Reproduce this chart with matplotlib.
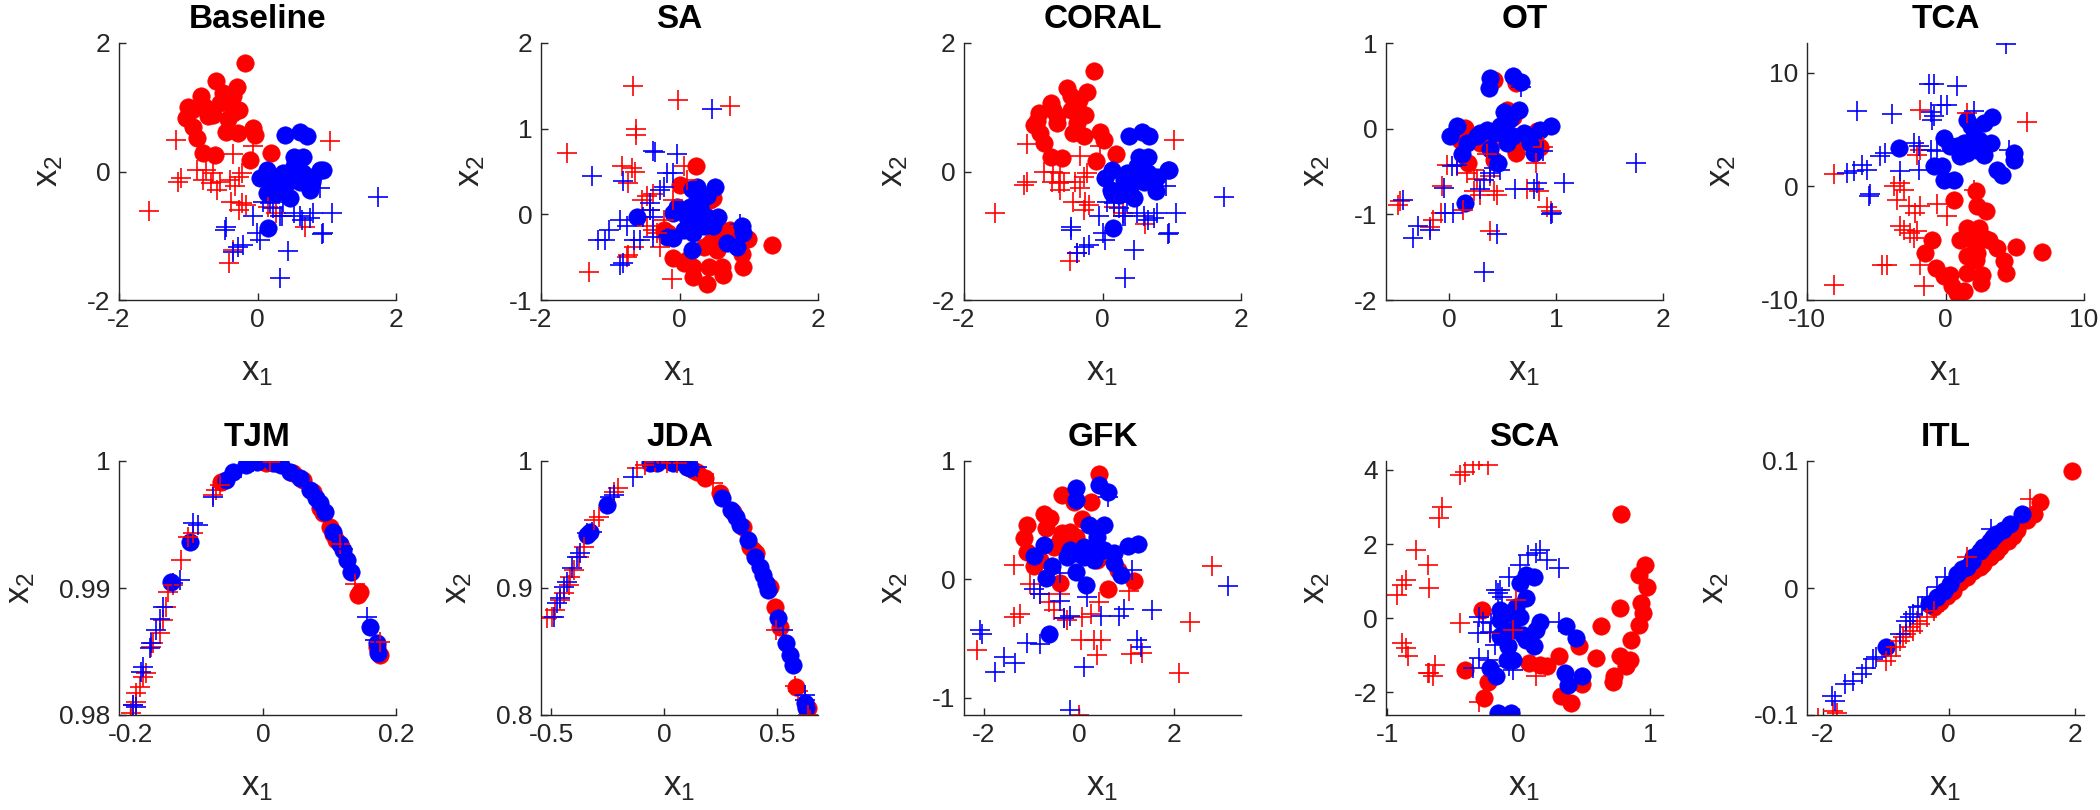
import numpy as np
import matplotlib
matplotlib.use("Agg")
import matplotlib.pyplot as plt
from matplotlib.ticker import FuncFormatter

plt.rcParams['font.family'] = ['Liberation Sans', 'DejaVu Sans']
plt.rcParams['mathtext.fontset'] = 'custom'
plt.rcParams['mathtext.rm'] = 'Liberation Sans'
plt.rcParams['mathtext.it'] = 'Liberation Sans'
plt.rcParams['axes.unicode_minus'] = False

# ---- Baseline ----
base_rdot = [(-0.18, 1.69), (-0.60, 1.41), (-0.29, 1.31), (-0.82, 1.17), (-1.00, 1.01), (-0.40, 1.12),
             (-1.03, 0.83), (-0.93, 0.70), (-0.64, 0.88), (-0.35, 0.91), (-0.76, 1.01), (-0.54, 1.06),
             (-0.45, 0.62), (-0.28, 0.60), (-0.06, 0.68), (-0.04, 0.57), (-0.88, 0.52), (-0.79, 0.29),
             (-0.62, 0.26), (-0.11, 0.18), (0.20, 0.29), (-0.42, 0.81), (-0.50, 1.22), (-0.35, 1.17),
             (-0.26, 0.96), (-0.71, 0.86), (-0.95, 0.96)]
base_bdot = [(0.40, 0.57), (0.61, 0.62), (0.71, 0.55), (0.52, 0.23), (0.66, 0.23), (0.03, -0.10),
             (0.13, 0.03), (0.37, -0.03), (0.52, 0.08), (0.90, 0.03), (0.95, 0.03), (0.80, -0.08),
             (0.23, -0.23), (0.42, -0.18), (0.61, -0.16), (0.76, -0.29), (0.13, -0.34), (0.47, -0.42),
             (0.27, -0.34), (0.15, -0.88), (0.56, -0.03), (0.32, -0.13), (0.78, -0.16), (0.47, -0.05),
             (0.66, -0.03)]
base_rplus = [(1.05, 0.48), (-1.17, 0.49), (-1.10, -0.10), (-1.15, -0.16), (-1.57, -0.61), (-0.74, 0.03),
              (-0.64, -0.03), (-0.54, -0.16), (-0.67, -0.18), (-0.35, 0.28), (-0.23, -0.03), (-0.26, -0.08),
              (-0.40, -0.13), (-0.33, -0.23), (-0.38, -0.47), (-0.23, -0.49), (-0.16, -0.52), (-0.26, -0.60),
              (0.15, -0.55), (0.27, -0.65), (0.68, -0.86), (-0.41, -1.42), (-0.35, -1.22), (-0.88, 0.03),
              (-0.79, -0.13), (-0.06, 0.39), (-0.59, -0.29)]
base_bplus = [(1.74, -0.40), (1.07, -0.65), (0.95, -0.96), (0.93, -0.98), (0.80, -0.65), (0.76, -0.73),
              (0.61, -0.70), (0.35, -0.70), (0.32, -0.70), (0.23, -0.57), (0.08, -0.47), (-0.06, -0.70),
              (-0.01, -0.96), (-0.21, -1.14), (-0.35, -1.25), (-0.28, -1.17), (-0.45, -0.86), (-0.47, -0.91),
              (0.44, -1.23), (0.32, -1.66), (0.64, -0.75), (0.90, -0.26), (0.03, -1.06), (0.18, -0.49),
              (0.52, -0.65), (0.37, -0.47)]

# ---- SA ----
sa_rdot = [(0.24, 0.57), (0.01, 0.34), (0.44, 0.17), (0.49, 0.19), (-0.23, -0.18), (-0.16, -0.22),
           (-0.09, -0.51), (0.06, -0.57), (0.20, -0.61), (0.39, -0.81), (0.44, -0.34), (0.49, -0.30),
           (0.61, -0.20), (0.78, -0.30), (0.99, -0.29), (0.90, -0.46), (0.92, -0.61), (0.61, -0.61),
           (0.63, -0.71), (0.42, -0.61), (0.20, -0.73), (0.11, -0.53), (1.33, -0.36), (0.35, -0.38),
           (0.54, -0.42), (0.73, -0.18)]
sa_bdot = [(-0.62, -0.03), (-0.04, 0.09), (-0.09, 0.01), (0.18, 0.30), (0.25, 0.32), (0.51, 0.32),
           (0.39, 0.21), (0.25, 0.17), (0.30, 0.01), (0.11, -0.03), (0.20, -0.07), (0.39, -0.03),
           (0.56, -0.03), (0.35, -0.14), (0.49, -0.14), (0.06, -0.18), (-0.09, -0.28), (-0.18, -0.26),
           (0.20, -0.22), (0.18, -0.42), (0.68, -0.34), (0.83, -0.38), (0.90, -0.14), (0.92, -0.22),
           (0.30, 0.09), (0.15, 0.09)]
sa_rplus = [(-0.67, 1.50), (-0.02, 1.34), (0.73, 1.27), (-1.63, 0.72), (-0.63, 1.00), (-0.63, 0.93),
            (-0.83, 0.56), (-0.69, 0.54), (-0.64, 0.50), (-0.74, 0.36), (-0.38, 0.24), (-0.47, 0.21),
            (-0.54, 0.17), (-0.42, 0.05), (-0.47, -0.14), (-0.38, -0.18), (-0.33, -0.22), (-0.28, -0.38),
            (-0.66, -0.38), (-0.74, -0.48), (-1.31, -0.67), (-0.11, -0.75), (0.06, 0.56), (0.11, 0.40),
            (-0.09, 0.17), (-0.76, -0.50), (-0.23, -0.07)]
sa_bplus = [(0.47, 1.23), (-0.38, 0.74), (-0.35, 0.73), (-0.04, 0.71), (-1.26, 0.45), (-0.81, 0.39),
            (-0.18, 0.48), (-0.09, 0.48), (-0.42, 0.13), (-0.42, 0.05), (-0.28, 0.28), (-0.23, 0.32),
            (-0.86, -0.07), (-1.02, -0.18), (-1.07, -0.30), (-1.17, -0.30), (-0.86, -0.59), (-0.81, -0.57),
            (-0.57, -0.30), (-0.38, -0.26), (-0.52, -0.03), (-0.38, -0.03), (0.87, -0.11), (-0.66, -0.30),
            (-0.76, -0.14)]

# ---- CORAL ----
coral_rdot = [(-0.12, 1.57), (-0.51, 1.30), (-0.22, 1.23), (-0.75, 1.07), (-0.92, 0.91), (-0.37, 1.01),
              (-0.99, 0.73), (-0.90, 0.60), (-0.66, 0.86), (-0.32, 0.86), (-0.71, 0.96), (-0.46, 0.96),
              (-0.42, 0.60), (-0.27, 0.55), (-0.03, 0.62), (0.02, 0.49), (-0.85, 0.44), (-0.75, 0.23),
              (-0.58, 0.21), (-0.10, 0.16), (0.19, 0.27), (-0.37, 0.75), (-0.46, 1.17), (-0.34, 1.12),
              (-0.25, 0.88), (-0.66, 0.75), (-0.95, 0.78)]
coral_bdot = [(0.38, 0.55), (0.57, 0.62), (0.67, 0.55), (0.53, 0.23), (0.65, 0.23), (0.04, -0.10),
              (0.14, 0.02), (0.36, -0.03), (0.50, 0.08), (0.94, 0.02), (0.96, 0.03), (0.79, -0.08),
              (0.14, -0.34), (0.41, -0.21), (0.60, -0.16), (0.77, -0.31), (0.12, -0.29), (0.45, -0.42),
              (0.24, -0.36), (0.15, -0.88), (0.55, -0.03), (0.31, -0.13), (0.74, -0.16), (0.45, -0.05),
              (0.65, -0.03)]
coral_rplus = [(1.03, 0.49), (-1.09, 0.43), (-1.09, -0.16), (-1.14, -0.21), (-1.55, -0.65), (-0.71, 0.00),
               (-0.61, -0.03), (-0.56, -0.16), (-0.63, -0.18), (-0.32, 0.24), (-0.22, -0.03), (-0.27, -0.08),
               (-0.39, -0.16), (-0.32, -0.26), (-0.42, -0.47), (-0.25, -0.47), (-0.20, -0.52), (-0.27, -0.60),
               (0.16, -0.55), (0.29, -0.65), (0.62, -0.81), (-0.47, -1.40), (-0.37, -1.27), (-0.85, 0.00),
               (-0.73, -0.16), (-0.03, 0.39), (-0.61, -0.29)]
coral_bplus = [(1.76, -0.40), (1.06, -0.65), (0.96, -0.96), (0.94, -0.98), (0.79, -0.65), (0.74, -0.73),
               (0.60, -0.70), (0.33, -0.70), (0.29, -0.70), (0.24, -0.57), (0.07, -0.47), (-0.05, -0.70),
               (0.00, -0.96), (-0.20, -1.14), (-0.37, -1.27), (-0.27, -1.17), (-0.46, -0.86), (-0.46, -0.91),
               (0.45, -1.22), (0.33, -1.66), (0.65, -0.75), (0.91, -0.23), (0.04, -1.06), (0.16, -0.49),
               (0.50, -0.65), (0.36, -0.47)]

# ---- OT ----
ot_rdot = [(0.42, 0.57), (0.63, 0.53), (0.54, 0.22), (0.15, 0.01), (0.18, -0.40), (0.85, -0.21),
           (0.63, -0.28), (0.82, -0.03), (0.38, -0.21), (0.29, -0.17), (0.48, -0.05), (0.10, -0.13),
           (0.70, -0.13), (0.60, 0.14), (0.42, -0.36)]
ot_bdot = [(0.38, 0.59), (0.37, 0.47), (0.60, 0.61), (0.67, 0.55), (0.51, 0.20), (0.65, 0.22),
           (0.07, 0.03), (0.01, -0.09), (0.17, -0.17), (0.12, -0.30), (0.26, -0.09), (0.35, -0.01),
           (0.42, -0.05), (0.48, 0.03), (0.54, -0.05), (0.60, -0.09), (0.70, -0.05), (0.76, -0.17),
           (0.79, -0.28), (0.85, -0.01), (0.95, 0.03), (0.38, -0.24), (0.46, -0.40), (0.15, -0.87),
           (0.54, -0.17), (0.29, -0.05), (0.57, 0.11)]
ot_rplus = [(-0.46, -0.85), (-0.48, -0.89), (-0.02, -0.42), (-0.07, -0.67), (-0.15, -1.07), (-0.18, -1.15),
            (0.13, -0.95), (0.23, -0.73), (0.29, -0.77), (0.42, -0.73), (0.45, -0.77), (0.38, -1.20),
            (0.81, -0.40), (0.73, -0.71), (0.84, -0.73), (0.92, -0.92), (0.95, -0.96), (0.23, -0.48),
            (0.26, -0.59), (0.38, -0.55), (0.07, -0.44), (0.35, -0.30), (0.88, -0.21), (-0.08, -0.98),
            (0.17, -0.52)]
ot_bplus = [(1.75, -0.40), (1.07, -0.64), (0.82, -0.64), (0.79, -0.71), (0.62, -0.71), (0.95, -1.00),
            (0.96, -0.98), (0.45, -1.23), (0.33, -1.67), (-0.34, -1.28), (-0.29, -1.14), (-0.18, -1.18),
            (-0.04, -0.98), (0.04, -0.98), (-0.05, -0.69), (0.03, -0.44), (0.07, -0.42), (0.29, -0.71),
            (0.33, -0.60), (0.38, -0.52), (0.42, -0.46), (0.48, -0.48), (0.88, -0.26), (0.67, 0.49),
            (-0.43, -0.83)]

# ---- TCA ----
tca_rdot = [(2.17, -0.44), (0.60, -1.17), (2.29, -1.76), (2.89, -2.20), (1.57, -3.67), (2.41, -3.67),
            (1.08, -4.69), (1.93, -4.69), (2.77, -4.55), (3.13, -4.69), (3.73, -5.42), (5.06, -5.34),
            (6.99, -5.81), (1.57, -6.16), (2.29, -5.86), (2.17, -6.45), (4.22, -6.60), (4.34, -7.62),
            (1.57, -7.62), (2.65, -7.77), (2.53, -8.50), (-0.96, -4.69), (-1.45, -5.86), (-0.72, -7.18),
            (-0.12, -7.92), (0.36, -7.77), (0.48, -8.80), (1.33, -9.24), (0.84, -9.38)]
tca_bdot = [(-3.37, 3.37), (-0.12, 4.25), (-0.84, 1.76), (-0.24, 1.76), (-0.12, 0.59), (0.60, 0.59),
            (1.57, 5.86), (1.81, 5.28), (3.37, 6.10), (2.77, 5.57), (2.05, 4.40), (1.33, 3.81),
            (0.84, 3.52), (1.57, 2.93), (2.29, 3.23), (2.77, 2.79), (3.25, 3.81), (4.94, 2.93),
            (4.94, 2.35), (3.73, 1.47), (4.10, 1.03), (1.08, 2.64), (0.36, 3.52), (1.81, 3.81),
            (2.41, 4.11)]
tca_rplus = [(-8.07, 1.11), (-4.58, -6.95), (-4.22, -6.89), (-8.07, -8.65), (-1.57, -8.80), (-1.81, 6.74),
             (-1.81, 3.23), (-2.05, 2.79), (-3.25, 0.29), (-3.73, 0.00), (-3.01, -0.29), (-3.49, -1.17),
             (-2.65, -1.76), (-2.17, -2.35), (-1.81, -1.76), (-0.60, -1.52), (0.12, -2.64), (-3.25, -3.52),
             (-3.01, -3.81), (-2.53, -4.11), (-2.29, -4.55), (-2.05, -3.96), (5.90, 5.63), (2.05, -0.29),
             (1.57, 6.45), (-1.81, -6.95)]
tca_bplus = [(4.34, 12.55), (-1.20, 8.97), (-0.84, 8.97), (0.80, 8.86), (-6.39, 6.63), (-3.86, 6.33),
             (-1.08, 6.57), (-0.36, 7.15), (0.12, 7.15), (-0.96, 5.86), (-0.84, 6.16), (-7.11, 1.17),
             (-6.63, 1.32), (-6.02, 1.91), (-5.66, 1.47), (-4.70, 2.64), (-4.34, 2.93), (-2.29, 3.81),
             (-1.93, 3.52), (-1.08, 3.23), (-0.60, 3.08), (-3.25, 1.32), (-1.93, 1.47), (-5.42, -0.65),
             (-5.54, -0.88), (4.58, 3.23), (2.05, 6.63)]

# ---- TJM ----
tjm_rdot = [(-0.0628, 0.99837), (0.0050, 0.99982), (0.0201, 0.99982), (0.0602, 0.99850), (0.0753, 0.99759),
            (0.0904, 0.99588), (0.1004, 0.99483), (0.1431, 0.98945), (0.1456, 0.98971), (0.1757, 0.98472),
            (0.1707, 0.98537), (0.1104, 0.99375), (0.0452, 0.99903), (0.0853, 0.99633), (0.1054, 0.99423)]
tjm_bdot = [(-0.0552, 0.99850), (-0.0452, 0.99916), (-0.0251, 0.99969), (-0.0100, 0.99995), (0.0276, 0.99969),
            (0.0402, 0.99916), (0.0552, 0.99864), (0.0703, 0.99772), (0.0853, 0.99667), (0.0929, 0.99601),
            (0.1054, 0.99444), (0.1205, 0.99299), (0.1330, 0.99129), (0.1606, 0.98696), (0.1707, 0.98565),
            (0.1732, 0.98486), (-0.1104, 0.99365), (-0.1381, 0.99050), (0.1155, 0.99349), (0.1255, 0.99218),
            (0.0151, 0.99982), (0.0803, 0.99706)]
tjm_rplus = [(-0.1983, 0.98013), (-0.1958, 0.98079), (-0.1908, 0.98105), (-0.1908, 0.98171), (-0.1857, 0.98223),
             (-0.1807, 0.98302), (-0.1757, 0.98328), (-0.1682, 0.98538), (-0.1657, 0.98564), (-0.1556, 0.98643),
             (-0.1506, 0.98748), (-0.1456, 0.98853), (-0.1431, 0.98971), (-0.1355, 0.99024), (-0.1230, 0.99220),
             (-0.1130, 0.99404), (-0.1054, 0.99430), (-0.0753, 0.99732), (-0.0703, 0.99772), (-0.0653, 0.99811),
             (0.1155, 0.99349), (0.1381, 0.99034), (0.1757, 0.98577), (0.0100, 0.99995)]
tjm_bplus = [(-0.1958, 0.98079), (-0.1908, 0.98066), (-0.1832, 0.98341), (-0.1807, 0.98381), (-0.1707, 0.98525),
             (-0.1682, 0.98564), (-0.1606, 0.98669), (-0.1556, 0.98759), (-0.1506, 0.98853), (-0.1355, 0.99036),
             (-0.1054, 0.99509), (-0.0979, 0.99496), (-0.0753, 0.99717), (-0.0151, 0.99995), (-0.0050, 1.00008),
             (0.1556, 0.98774), (0.1682, 0.98590), (-0.0326, 0.99942), (0.1205, 0.99310), (-0.1255, 0.99063)]

# ---- JDA ----
jda_rdot = [(0.128, 0.9929), (0.179, 0.9864), (0.246, 0.9745), (0.304, 0.9601), (0.349, 0.9483),
            (0.378, 0.9325), (0.407, 0.9273), (0.488, 0.8853), (0.510, 0.8696), (0.584, 0.8223),
            (0.635, 0.8052), (0.143, 0.9916), (0.393, 0.9299), (0.466, 0.9010)]
jda_bdot = [(-0.063, 0.9982), (-0.034, 0.9982), (0.025, 1.0000), (0.040, 0.9982), (0.099, 0.9955),
            (0.113, 0.9942), (0.253, 0.9706), (0.297, 0.9614), (0.319, 0.9562), (0.334, 0.9496),
            (0.371, 0.9378), (0.400, 0.9247), (0.422, 0.9168), (0.437, 0.9102), (0.451, 0.9037),
            (0.459, 0.8984), (0.503, 0.8761), (0.540, 0.8564), (0.554, 0.8472), (0.569, 0.8394),
            (0.621, 0.8092), (0.628, 0.8052), (-0.254, 0.9654), (-0.343, 0.9417), (-0.328, 0.9444)]
jda_rplus = [(-0.519, 0.8761), (-0.497, 0.8774), (-0.482, 0.8827), (-0.460, 0.8906), (-0.446, 0.8958),
             (-0.424, 0.9024), (-0.416, 0.9090), (-0.401, 0.9142), (-0.379, 0.9247), (-0.357, 0.9325),
             (-0.313, 0.9535), (-0.291, 0.9562), (-0.225, 0.9759), (-0.203, 0.9785), (-0.122, 0.9942),
             (-0.085, 0.9969), (-0.041, 0.9995), (0.010, 0.9982), (0.054, 0.9982), (0.216, 0.9824),
             (0.496, 0.8672), (0.576, 0.8226), (0.591, 0.8186), (0.643, 0.7963), (0.635, 0.8003)]
jda_bplus = [(-0.490, 0.8774), (-0.475, 0.8880), (-0.460, 0.8919), (-0.446, 0.9011), (-0.431, 0.9050),
             (-0.409, 0.9155), (-0.387, 0.9247), (-0.372, 0.9273), (-0.343, 0.9430), (-0.321, 0.9444),
             (-0.240, 0.9719), (-0.225, 0.9732), (-0.137, 0.9877), (-0.041, 1.0021), (-0.019, 1.0008),
             (0.032, 1.0021), (0.525, 0.8669), (0.621, 0.8157), (0.621, 0.8118), (0.143, 0.9955)]

# ---- GFK ----
gfk_rdot = [(0.42, 0.89), (-0.35, 0.71), (-0.11, 0.65), (0.25, 0.65), (-0.74, 0.55), (-0.60, 0.52),
            (0.07, 0.51), (-1.09, 0.46), (-0.70, 0.43), (-1.16, 0.35), (-0.35, 0.39), (-0.18, 0.40),
            (-0.39, 0.33), (-0.07, 0.36), (-1.09, 0.23), (-0.95, 0.11), (-0.39, -0.03), (0.60, -0.08),
            (1.16, -0.01), (0.81, 0.08), (-0.53, 0.27), (0.04, 0.26), (0.39, 0.16), (-0.81, 0.16)]
gfk_bdot = [(-0.07, 0.77), (-0.07, 0.67), (0.42, 0.80), (0.60, 0.74), (0.21, 0.46), (0.53, 0.46),
            (-0.95, 0.20), (-0.74, 0.29), (-0.56, 0.11), (-0.70, 0.01), (-0.18, 0.25), (-0.07, 0.22),
            (0.11, 0.27), (0.32, 0.27), (0.53, 0.25), (0.32, 0.16), (0.11, 0.19), (0.74, 0.22),
            (1.02, 0.28), (1.23, 0.30), (0.74, 0.14), (0.88, 0.04), (-0.07, 0.06), (0.14, -0.05),
            (-0.63, -0.46), (0.39, 0.36), (-0.25, 0.19)]
gfk_rplus = [(-1.37, 0.12), (2.79, 0.11), (2.32, -0.36), (2.11, -0.79), (-2.14, -0.60), (-1.37, -0.32),
             (-1.23, -0.29), (-0.63, -0.19), (-0.53, -0.26), (-0.32, -0.33), (-0.25, -0.34), (0.04, -0.51),
             (0.32, -0.51), (0.46, -0.51), (0.39, -0.64), (1.05, -0.10), (1.09, -0.63), (1.33, -0.62),
             (0.00, -1.15), (0.07, -0.32), (0.25, -0.29), (0.42, -0.19), (-0.81, -0.12), (-0.39, -0.12),
             (-1.02, -0.04)]
gfk_bplus = [(3.12, -0.06), (-2.07, -0.43), (-2.04, -0.46), (-1.58, -0.66), (-1.33, -0.71), (-1.75, -0.78),
             (-1.09, -0.54), (-0.81, -0.55), (-0.95, -0.08), (-0.81, -0.12), (-0.39, -0.18), (-0.32, -0.33),
             (-0.18, -0.31), (0.18, -0.15), (0.46, -0.31), (0.84, -0.31), (0.95, -0.25), (1.54, -0.26),
             (1.12, 0.08), (1.21, -0.51), (1.30, -0.57), (0.11, -0.74), (-0.18, -1.10), (0.60, 0.70),
             (-0.39, 0.05)]

# ---- SCA ----
sca_rdot = [(0.78, 2.80), (0.96, 1.44), (0.92, 1.17), (0.98, 0.85), (0.93, 0.40), (0.95, 0.13),
            (0.92, -0.18), (0.77, 0.27), (0.63, -0.22), (0.86, -0.58), (0.59, -1.08), (0.77, -1.03),
            (0.85, -1.12), (0.82, -1.30), (0.73, -1.57), (0.72, -1.71), (0.46, -0.76), (0.31, -1.03),
            (0.22, -1.30), (0.16, -1.26), (0.08, -1.21), (-0.28, 0.21), (-0.41, -1.39), (-0.23, -1.71),
            (-0.26, -2.16), (0.32, -2.10), (0.40, -2.29), (0.48, -1.78)]
sca_bdot = [(0.06, 1.17), (0.12, 1.12), (0.01, 0.94), (0.06, 0.54), (-0.14, 0.22), (-0.07, 0.13),
            (-0.14, -0.04), (0.01, 0.04), (-0.11, -0.40), (-0.04, -0.31), (0.03, -0.45), (-0.14, -0.49),
            (0.06, -0.58), (0.16, -0.09), (0.13, -0.31), (0.12, -0.76), (-0.08, -0.76), (-0.09, -1.12),
            (-0.04, -1.12), (-0.22, -1.35), (-0.17, -1.57), (0.36, -0.22), (0.44, -0.54), (0.35, -1.48),
            (0.38, -1.80), (0.48, -1.57), (-0.16, -2.56), (-0.06, -2.56), (-0.02, 0.31)]
sca_rplus = [(-0.45, 3.86), (-0.41, 3.95), (-0.35, 4.13), (-0.30, 4.27), (-0.23, 4.13), (-0.58, 3.01),
             (-0.61, 2.70), (-0.78, 1.84), (-0.69, 1.44), (-0.86, 1.04), (-0.89, 0.90), (-0.93, 0.63),
             (-0.68, 0.81), (-0.89, -0.67), (-0.86, -0.81), (-0.84, -1.03), (-0.64, -1.26), (-0.69, -1.48),
             (-0.65, -1.57), (-0.45, -0.13), (-0.02, 0.49), (-0.04, -0.31), (-0.22, -0.40), (0.13, -1.57),
             (-0.30, -2.25), (-0.68, -1.48)]
sca_bplus = [(0.07, 1.71), (0.13, 1.75), (0.16, 1.84), (0.22, 1.57), (0.31, 1.35), (0.01, 1.44),
             (-0.07, 1.12), (-0.14, 0.76), (-0.16, 0.67), (-0.13, 0.58), (-0.30, 0.04), (-0.27, -0.09),
             (-0.21, -0.13), (-0.22, -0.36), (-0.31, -0.40), (-0.18, -0.72), (-0.30, -1.08), (-0.23, -1.12),
             (-0.35, -1.35), (0.31, -0.09), (-0.04, -1.39), (-0.17, 0.76), (-0.07, -1.30)]

# ---- ITL ----
itl_rdot = [(1.96, 0.0921), (1.45, 0.0676), (1.35, 0.0584), (1.24, 0.0532), (1.08, 0.0453), (0.95, 0.0374),
            (0.82, 0.0321), (0.66, 0.0242), (0.55, 0.0189), (0.39, 0.0137), (0.29, 0.0084), (0.18, 0.0045),
            (0.07, -0.0021), (-0.03, -0.0061), (-0.14, -0.0113), (-0.24, -0.0153), (1.03, 0.0411),
            (0.76, 0.0282), (0.50, 0.0163)]
itl_bdot = [(-0.99, -0.0463), (-0.32, -0.0126), (-0.19, -0.0074), (-0.08, -0.0021), (0.02, 0.0032),
            (0.13, 0.0111), (0.21, 0.0150), (0.29, 0.0163), (0.39, 0.0242), (0.50, 0.0295), (0.55, 0.0321),
            (0.66, 0.0374), (0.76, 0.0426), (0.87, 0.0453), (0.98, 0.0505), (1.16, 0.0584), (0.37, 0.0216),
            (0.71, 0.0400)]
itl_rplus = [(-2.07, -0.1021), (-1.84, -0.0968), (-1.78, -0.0982), (-0.99, -0.0574), (-0.91, -0.0534),
             (-0.83, -0.0468), (-0.77, -0.0416), (-0.72, -0.0389), (-0.67, -0.0363), (-0.56, -0.0337),
             (-0.46, -0.0284), (-0.35, -0.0232), (-0.24, -0.0179), (0.29, 0.0242), (1.29, 0.0703),
             (-0.62, -0.0311), (-0.51, -0.0258)]
itl_bplus = [(-1.86, -0.0850), (-1.81, -0.0889), (-1.65, -0.0758), (-1.52, -0.0732), (-1.38, -0.0679),
             (-1.31, -0.0626), (-1.20, -0.0561), (-1.15, -0.0547), (-0.77, -0.0363), (-0.67, -0.0258),
             (-0.56, -0.0205), (-0.48, -0.0153), (-0.35, -0.0074), (-0.19, 0.0005), (-0.06, 0.0084),
             (0.68, 0.0466), (-0.62, -0.0232), (-0.43, -0.0139)]

titles = ["Baseline", "SA", "CORAL", "OT", "TCA", "TJM", "JDA", "GFK", "SCA", "ITL"]
series = [
    (base_rdot, base_bdot, base_rplus, base_bplus),
    (sa_rdot, sa_bdot, sa_rplus, sa_bplus),
    (coral_rdot, coral_bdot, coral_rplus, coral_bplus),
    (ot_rdot, ot_bdot, ot_rplus, ot_bplus),
    (tca_rdot, tca_bdot, tca_rplus, tca_bplus),
    (tjm_rdot, tjm_bdot, tjm_rplus, tjm_bplus),
    (jda_rdot, jda_bdot, jda_rplus, jda_bplus),
    (gfk_rdot, gfk_bdot, gfk_rplus, gfk_bplus),
    (sca_rdot, sca_bdot, sca_rplus, sca_bplus),
    (itl_rdot, itl_bdot, itl_rplus, itl_bplus),
]
xlims = [(-2, 2), (-2, 2), (-2, 2), (-0.59, 2), (-10, 10),
         (-0.217, 0.2), (-0.546, 0.68), (-2.41, 3.40), (-1.01, 1.10), (-2.25, 2.15)]
ylims = [(-2, 2), (-1, 2), (-2, 2), (-2, 1), (-10, 12.6),
         (0.98, 1.0), (0.8, 1.0), (-1.146, 1), (-2.61, 4.24), (-0.1, 0.1)]
xticks = [[-2, 0, 2], [-2, 0, 2], [-2, 0, 2], [0, 1, 2], [-10, 0, 10],
          [-0.2, 0, 0.2], [-0.5, 0, 0.5], [-2, 0, 2], [-1, 0, 1], [-2, 0, 2]]
yticks = [[-2, 0, 2], [-1, 0, 1, 2], [-2, 0, 2], [-2, -1, 0, 1], [-10, 0, 10],
          [0.98, 0.99, 1], [0.8, 0.9, 1], [-1, 0, 1], [-2, 0, 2, 4], [-0.1, 0, 0.1]]

RED = '#ff0000'
BLUE = '#0000ff'
AX_COL = '#262626'

fig = plt.figure(figsize=(21, 8.1), dpi=100)
lefts = [119, 541, 964, 1386, 1807]
fmt = FuncFormatter(lambda v, p: '{:g}'.format(round(v, 6)))

for i in range(10):
    row, col = divmod(i, 5)
    if row == 0:
        rect = [lefts[col] / 2100, 1 - 300 / 810, 277 / 2100, 257 / 810]
    else:
        rect = [lefts[col] / 2100, 1 - 715 / 810, 277 / 2100, 254 / 810]
    ax = fig.add_axes(rect)
    rdot, bdot, rplus, bplus = series[i]
    # filled circles first, plus signs on top
    for pts, c in ((rdot, RED), (bdot, BLUE)):
        a = np.array(pts)
        ax.plot(a[:, 0], a[:, 1], 'o', color=c, ms=12.5, mec=c, mew=0.5)
    for pts, c in ((rplus, RED), (bplus, BLUE)):
        a = np.array(pts)
        ax.plot(a[:, 0], a[:, 1], '+', color=c, ms=15, mew=1.2)

    ax.set_xlim(*xlims[i])
    ax.set_ylim(*ylims[i])
    ax.set_xticks(xticks[i])
    ax.set_yticks(yticks[i])
    ax.xaxis.set_major_formatter(fmt)
    ax.yaxis.set_major_formatter(fmt)
    ax.spines['top'].set_visible(False)
    ax.spines['right'].set_visible(False)
    for s in ('left', 'bottom'):
        ax.spines[s].set_color(AX_COL)
        ax.spines[s].set_linewidth(1.0)
    ax.tick_params(direction='in', length=5, width=1.0, colors=AX_COL,
                   labelsize=19, labelcolor=AX_COL, pad=6)
    ax.set_title(titles[i], fontsize=24, fontweight='bold', pad=11)
    ax.set_xlabel(r'x$_1$', fontsize=25, color=AX_COL, labelpad=16)
    ax.set_ylabel(r'x$_2$', fontsize=25, color=AX_COL, labelpad=16)

fig.savefig('out.png', dpi=100)
